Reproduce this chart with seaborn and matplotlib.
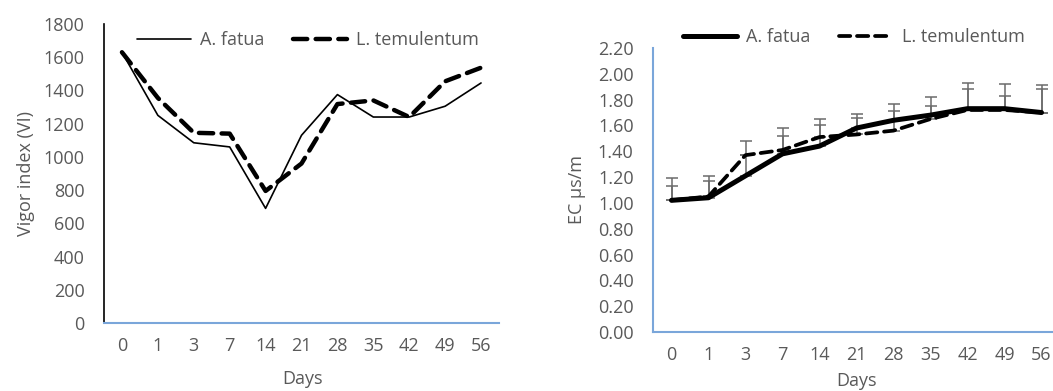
import matplotlib
matplotlib.use("Agg")
import matplotlib.pyplot as plt
import seaborn as sns
import pandas as pd
import numpy as np

days = ["0", "1", "3", "7", "14", "21", "28", "35", "42", "49", "56"]
vigor_fatua = [1630, 1250, 1085, 1060, 690, 1130, 1375, 1240, 1240, 1305, 1445]
vigor_temul = [1630, 1355, 1145, 1140, 795, 960, 1318, 1340, 1240, 1455, 1537]
ec_fatua = [1.02, 1.04, 1.21, 1.38, 1.44, 1.58, 1.64, 1.68, 1.73, 1.73, 1.70]
ec_temul = [1.02, 1.05, 1.37, 1.41, 1.51, 1.53, 1.56, 1.65, 1.72, 1.72, 1.70]
ec_fatua_err = [0.11, 0.13, 0.16, 0.14, 0.16, 0.08, 0.07, 0.07, 0.15, 0.10, 0.18]
ec_temul_err = [0.17, 0.16, 0.11, 0.17, 0.14, 0.16, 0.21, 0.17, 0.21, 0.20, 0.21]
names = ["A. fatua", "L. temulentum"]

sns.set_theme(style="white")
plt.rcParams["font.family"] = ["Open Sans", "DejaVu Sans"]
TXT = "#595959"
BLUE = "#7AA6DA"
FS = 13

W, H = 1053, 391
fig = plt.figure(figsize=(W / 100, H / 100), dpi=100)

def ax_at(l, t, r, b):
    return fig.add_axes([l / W, 1 - b / H, (r - l) / W, (b - t) / H])

pos = np.arange(len(days))

# ---- Left chart
ax1 = ax_at(104, 24, 499, 323)
df1 = pd.DataFrame({"pos": np.concatenate([pos, pos]),
                    "val": vigor_fatua + vigor_temul,
                    "sp": [names[0]] * len(days) + [names[1]] * len(days)})
sns.lineplot(data=df1[df1.sp == names[0]], x="pos", y="val", ax=ax1, color="black",
             lw=1.2, label=names[0])
sns.lineplot(data=df1[df1.sp == names[1]], x="pos", y="val", ax=ax1, color="black",
             lw=3.2, label=names[1], dashes=False)
ax1.lines[1].set_dashes([3.2, 1.9])
ax1.lines[1].set_dash_capstyle("round")
ax1.set_xlim(-0.5, 10.5)
ax1.set_ylim(0, 1800)
ax1.set_yticks(range(0, 1801, 200))
ax1.set_xticks(pos)
ax1.set_xticklabels(days)
ax1.tick_params(axis="y", length=0, pad=14, labelsize=FS, labelcolor=TXT)
ax1.tick_params(axis="x", length=0, pad=10, labelsize=FS, labelcolor=TXT)
ax1.set_xlabel("Days", fontsize=FS, color=TXT)
ax1.set_ylabel("Vigor index (VI)", fontsize=FS, color=TXT)
ax1.xaxis.set_label_coords((302 - 104) / 395, -(370 - 323) / 299)
ax1.yaxis.set_label_coords((35 - 104) / 395, 0.5)
for s in ["top", "right"]:
    ax1.spines[s].set_visible(False)
ax1.spines["left"].set_color("black")
ax1.spines["left"].set_linewidth(1.2)
ax1.spines["bottom"].set_color(BLUE)
ax1.spines["bottom"].set_linewidth(1.5)
leg1 = ax1.legend(loc="center", bbox_to_anchor=(308 / W, 1 - 40 / H),
                  bbox_transform=fig.transFigure, ncol=2, frameon=False,
                  fontsize=FS, handlelength=3.0, columnspacing=1.6, handletextpad=0.5)
for t in leg1.get_texts():
    t.set_color(TXT)

# ---- Right chart
ax2 = ax_at(653, 48, 1060, 332)
df2 = pd.DataFrame({"pos": pos, "fat": ec_fatua, "tem": ec_temul})
ax2.errorbar(pos, ec_fatua, yerr=[np.zeros(len(pos)), ec_fatua_err], fmt="none",
             ecolor="#6b6b6b", elinewidth=1.1, capsize=4, capthick=1.1, zorder=1)
ax2.errorbar(pos, ec_temul, yerr=[np.zeros(len(pos)), ec_temul_err], fmt="none",
             ecolor="#6b6b6b", elinewidth=1.1, capsize=4, capthick=1.1, zorder=1)
sns.lineplot(data=df2, x="pos", y="fat", ax=ax2, color="black", lw=3.6,
             label=names[0], zorder=3)
sns.lineplot(data=df2, x="pos", y="tem", ax=ax2, color="black", lw=2.7,
             label=names[1], zorder=2)
ax2.lines[-1].set_dashes([3.0, 1.8])
ax2.lines[-1].set_dash_capstyle("round")
ax2.lines[-2].set_solid_capstyle("round")
ax2.set_xlim(-0.5, 10.5)
ax2.set_ylim(0, 2.2)
ax2.set_yticks(np.arange(0, 2.201, 0.2))
ax2.set_yticklabels([f"{v:.2f}" for v in np.arange(0, 2.201, 0.2)])
ax2.set_xticks(pos)
ax2.set_xticklabels(days)
ax2.tick_params(axis="y", length=0, pad=14, labelsize=FS, labelcolor=TXT)
ax2.tick_params(axis="x", length=0, pad=10, labelsize=FS, labelcolor=TXT)
ax2.set_xlabel("Days", fontsize=FS, color=TXT)
ax2.set_ylabel("EC µs/m", fontsize=FS, color=TXT)
ax2.xaxis.set_label_coords((857 - 653) / 407, -(372 - 332) / 284)
ax2.yaxis.set_label_coords((586 - 653) / 407, 0.5)
for s in ["top", "right"]:
    ax2.spines[s].set_visible(False)
for s in ["left", "bottom"]:
    ax2.spines[s].set_color(BLUE)
    ax2.spines[s].set_linewidth(1.5)
leg2 = ax2.legend(loc="center", bbox_to_anchor=(854 / W, 1 - 37 / H),
                  bbox_transform=fig.transFigure, ncol=2, frameon=False,
                  fontsize=FS, handlelength=3.0, columnspacing=1.6, handletextpad=0.5)
for t in leg2.get_texts():
    t.set_color(TXT)

fig.savefig("out.png", dpi=100)
